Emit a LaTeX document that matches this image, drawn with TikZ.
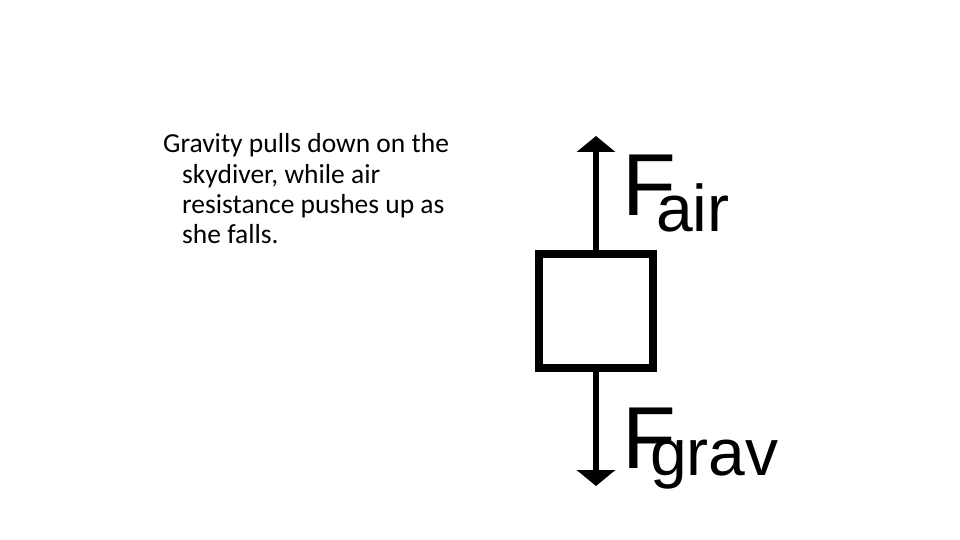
\documentclass[tikz,border=0pt]{standalone}
\usepackage{fontspec}
\setmainfont{Carlito}
\newfontfamily\lab{Liberation Sans}
\usetikzlibrary{arrows.meta}
\begin{document}
\begin{tikzpicture}[x=1pt,y=-1pt,
  txt/.style={anchor=base west,inner sep=0,font=\fontsize{27.5}{30}\selectfont},
  force/.style={line width=6pt,-{Triangle[width=38pt,length=16pt]}},
  big/.style={anchor=base west,inner sep=0,font=\lab\fontsize{88}{88}\selectfont},
  sub/.style={anchor=base west,inner sep=0,font=\lab\fontsize{66}{66}\selectfont}]
\useasboundingbox (0,0) rectangle (960,540);
\node[txt] (l1) at (163,153) {Gravity pulls down on the};
\node[txt] (l2) at (182,183) {skydiver, while air};
\node[txt] (l3) at (182,213) {resistance pushes up as};
\node[txt] (l4) at (182,243) {she falls.};
\node[draw,line width=8pt,minimum width=114pt,minimum height=114pt,inner sep=0] (box) at (596,311) {};
\coordinate (top) at (596,136);
\coordinate (bot) at (596,486);
\draw[force] (box.north) -- (top);
\draw[force] (box.south) -- (bot);
\node[big] (fa) at (622,215) {F};
\node[sub] (air) at (656,231) {air};
\node[big] (fg) at (622,468) {F};
\node[sub] (grav) at (650,475) {grav};
\end{tikzpicture}
\end{document}
